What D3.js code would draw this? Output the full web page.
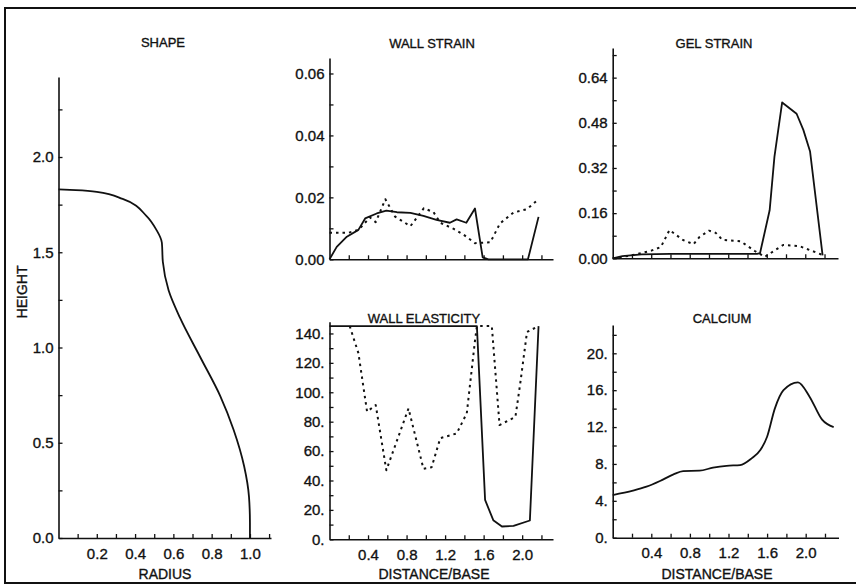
<!DOCTYPE html>
<html>
<head>
<meta charset="utf-8">
<script src="https://cdn.jsdelivr.net/npm/d3@7"></script>
<style>
  body { margin: 0; background: #fff; }
  svg { display: block; }
  text { font-family: "Liberation Sans", Arial, sans-serif; fill: #111; stroke: #111; stroke-width: 0.35px; }
</style>
</head>
<body>
<div id="chart"></div>
<script>
// Data
const shapeR = [0, 0.09, 0.2, 0.335, 0.46, 0.51, 0.54, 0.545, 0.575, 0.635, 0.74, 0.845, 0.915, 0.97, 0.995, 1.0, 1.0];
const shapeH = [1.83, 1.826, 1.817, 1.78, 1.69, 1.62, 1.55, 1.45, 1.30, 1.155, 0.95, 0.745, 0.567, 0.375, 0.217, 0.08, 0];

const wallStrainX = [0, 0.075, 0.18, 0.30, 0.37, 0.49, 0.59, 0.7, 0.84, 0.975, 1.11, 1.25, 1.32, 1.42, 1.51, 1.59, 1.65, 2.06, 2.17];
const wallStrain = [0, 0.004, 0.0073, 0.0095, 0.0132, 0.0148, 0.0157, 0.0152, 0.0150, 0.014, 0.0127, 0.0118, 0.0129, 0.0118, 0.0164, 0.0006, 0, 0, 0.0137];
const wallStrainDotX = [0, 0.2, 0.3, 0.42, 0.48, 0.58, 0.68, 0.84, 0.98, 1.08, 1.15, 1.29, 1.39, 1.51, 1.67, 1.77, 1.91, 2.05, 2.17];
const wallStrainDot = [0.0086, 0.0086, 0.0095, 0.0135, 0.012, 0.0194, 0.0138, 0.0107, 0.0165, 0.0152, 0.0118, 0.0098, 0.008, 0.0052, 0.0055, 0.0116, 0.0151, 0.0162, 0.0194];

const gelStrainX = [0, 0.1, 0.3, 0.6, 1.0, 1.5, 1.53, 1.63, 1.68, 1.76, 1.91, 1.98, 2.05, 2.18];
const gelStrain = [0, 0.008, 0.014, 0.016, 0.016, 0.016, 0.018, 0.17, 0.36, 0.552, 0.512, 0.455, 0.378, 0.01];
const gelStrainDotX = [0, 0.19, 0.4, 0.5, 0.59, 0.73, 0.84, 0.9, 1.0, 1.07, 1.14, 1.33, 1.48, 1.58, 1.77, 1.94, 2.18];
const gelStrainDot = [0, 0.01, 0.027, 0.04, 0.1, 0.065, 0.05, 0.075, 0.098, 0.09, 0.065, 0.06, 0.025, 0.005, 0.047, 0.043, 0.012];

const elastX = [0, 1.53, 1.615, 1.70, 1.79, 1.91, 2.08, 2.17];
const elast = [145, 145, 26.8, 13, 8.7, 9.1, 12.8, 145];
const elastDotX = [0.21, 0.3, 0.39, 0.48, 0.59, 0.82, 0.975, 1.06, 1.15, 1.32, 1.425, 1.51, 1.53, 1.685, 1.765, 1.93, 1.98, 2.05, 2.17];
const elastDot = [145, 126.6, 86.8, 91.3, 47, 89, 48, 49, 68.8, 72, 85.7, 135, 145, 145, 77.7, 83.3, 106, 141, 145];

const calciumX = [0, 0.21, 0.35, 0.49, 0.63, 0.73, 0.9, 1.04, 1.18, 1.32, 1.44, 1.53, 1.6, 1.68, 1.77, 1.92, 2.04, 2.17, 2.29];
const calcium = [4.63, 5.1, 5.53, 6.15, 6.87, 7.23, 7.27, 7.6, 7.8, 7.87, 8.6, 9.5, 10.95, 14.0, 16.0, 16.85, 15.3, 12.8, 12.0];

const W = 856, H = 584;

const svg = d3.select("#chart")
    .append("svg")
    .attr("width", W)
    .attr("height", H);

// Outer frame (open on the right, like the scan)
svg.append("path")
    .attr("d", `M${W},8 H5 V583 H${W}`)
    .attr("fill", "none")
    .attr("stroke", "#111")
    .attr("stroke-width", 2);

// Draws one panel: axes with inward ticks, labels, title, and its series
function panel(p) {
    const x = d3.scaleLinear().domain(p.xDomain).range(p.xRange);
    const y = d3.scaleLinear().domain(p.yDomain).range(p.yRange);
    const g = svg.append("g");

    const xAxis = d3.axisBottom(x)
        .tickValues(p.xTicks)
        .tickSizeInner(-4)
        .tickSizeOuter(0)
        .tickPadding(10)
        .tickFormat(p.xFormat);
    const yAxis = d3.axisLeft(y)
        .tickValues(p.yTicks)
        .tickSizeInner(-4)
        .tickSizeOuter(0)
        .tickPadding(5)
        .tickFormat(p.yFormat);

    const gx = g.append("g")
        .attr("transform", `translate(0,${p.yRange[0]})`)
        .call(xAxis);
    const gy = g.append("g")
        .attr("transform", `translate(${p.xRange[0]},0)`)
        .call(yAxis);

    [gx, gy].forEach(a => {
        a.attr("font-family", null).attr("font-size", null);
        a.select(".domain").attr("stroke", "#111").attr("stroke-width", 1.6);
        a.selectAll(".tick line").attr("stroke", "#111").attr("stroke-width", 1.3);
        a.selectAll(".tick text").style("font-size", "15px").attr("fill", "#111");
    });

    g.append("text")
        .attr("x", p.titleX)
        .attr("y", p.titleY)
        .attr("text-anchor", "middle")
        .style("font-size", "13px")
        .text(p.title);

    if (p.xLabel) {
        g.append("text")
            .attr("x", p.xLabelX)
            .attr("y", 579)
            .attr("text-anchor", "middle")
            .style("font-size", "14px")
            .text(p.xLabel);
    }

    p.series.forEach(s => {
        const pts = s.xs.map((v, i) => [v, s.ys[i]]);
        g.append("path")
            .datum(pts)
            .attr("fill", "none")
            .attr("stroke", "#111")
            .attr("stroke-width", s.dash ? 2 : 1.8)
            .attr("stroke-dasharray", s.dash || null)
            .attr("stroke-linejoin", "round")
            .attr("d", d3.line()
                .x(d => x(d[0]))
                .y(d => y(d[1]))
                .curve(s.curve || d3.curveLinear));
    });
}

const near = (v, step) => Math.abs(v / step - Math.round(v / step)) < 1e-6;
const distTicks = d3.range(1, 12).map(i => i * 0.2);
const distFormat = d => near(d, 0.4) ? d.toFixed(1) : "";

// SHAPE
panel({
    title: "SHAPE", titleX: 163, titleY: 47,
    xLabel: "RADIUS", xLabelX: 165,
    xDomain: [0, 1.11], xRange: [58.5, 271],
    yDomain: [0, 2.42], yRange: [538, 77],
    xTicks: d3.range(1, 12).map(i => i * 0.1),
    xFormat: d => (near(d, 0.2) ? d.toFixed(1) : ""),
    yTicks: d3.range(0, 10).map(i => i * 0.25),
    yFormat: d => (near(d, 0.5) ? d.toFixed(1) : ""),
    series: [{ xs: shapeR, ys: shapeH, curve: d3.curveMonotoneY }]
});

svg.append("text")
    .attr("transform", "translate(27,292) rotate(-90)")
    .attr("text-anchor", "middle")
    .style("font-size", "14px")
    .text("HEIGHT");

// WALL STRAIN
panel({
    title: "WALL STRAIN", titleX: 432, titleY: 48,
    xDomain: [0, 2.32], xRange: [329.5, 553],
    yDomain: [0, 0.065], yRange: [259.3, 58],
    xTicks: distTicks,
    xFormat: () => "",
    yTicks: d3.range(0, 7).map(i => i * 0.01),
    yFormat: d => (near(d, 0.02) ? d.toFixed(2) : ""),
    series: [
        { xs: wallStrainX, ys: wallStrain },
        { xs: wallStrainDotX, ys: wallStrainDot, dash: "2.5,4" }
    ]
});

// GEL STRAIN
panel({
    title: "GEL STRAIN", titleX: 714, titleY: 48,
    xDomain: [0, 2.34], xRange: [612.7, 838],
    yDomain: [0, 0.745], yRange: [258.3, 48],
    xTicks: distTicks,
    xFormat: () => "",
    yTicks: d3.range(0, 10).map(i => i * 0.08),
    yFormat: d => (near(d, 0.16) ? d.toFixed(2) : ""),
    series: [
        { xs: gelStrainX, ys: gelStrain },
        { xs: gelStrainDotX, ys: gelStrainDot, dash: "2.5,4" }
    ]
});

// WALL ELASTICITY
panel({
    title: "WALL ELASTICITY", titleX: 424, titleY: 323,
    xLabel: "DISTANCE/BASE", xLabelX: 434,
    xDomain: [0, 2.32], xRange: [329.5, 553],
    yDomain: [0, 148], yRange: [539.3, 321.7],
    xTicks: distTicks,
    xFormat: distFormat,
    yTicks: d3.range(0, 15).map(i => i * 10),
    yFormat: d => (near(d, 20) ? Math.round(d) + "." : ""),
    series: [
        { xs: elastX, ys: elast },
        { xs: elastDotX, ys: elastDot, dash: "2.5,4" }
    ]
});

// CALCIUM
panel({
    title: "CALCIUM", titleX: 722, titleY: 323,
    xLabel: "DISTANCE/BASE", xLabelX: 717,
    xDomain: [0, 2.34], xRange: [612.7, 838.5],
    yDomain: [0, 23.07], yRange: [537.7, 325],
    xTicks: distTicks,
    xFormat: distFormat,
    yTicks: d3.range(0, 12).map(i => i * 2),
    yFormat: d => (near(d, 4) ? Math.round(d) + "." : ""),
    series: [{ xs: calciumX, ys: calcium, curve: d3.curveMonotoneX }]
});
</script>
</body>
</html>
